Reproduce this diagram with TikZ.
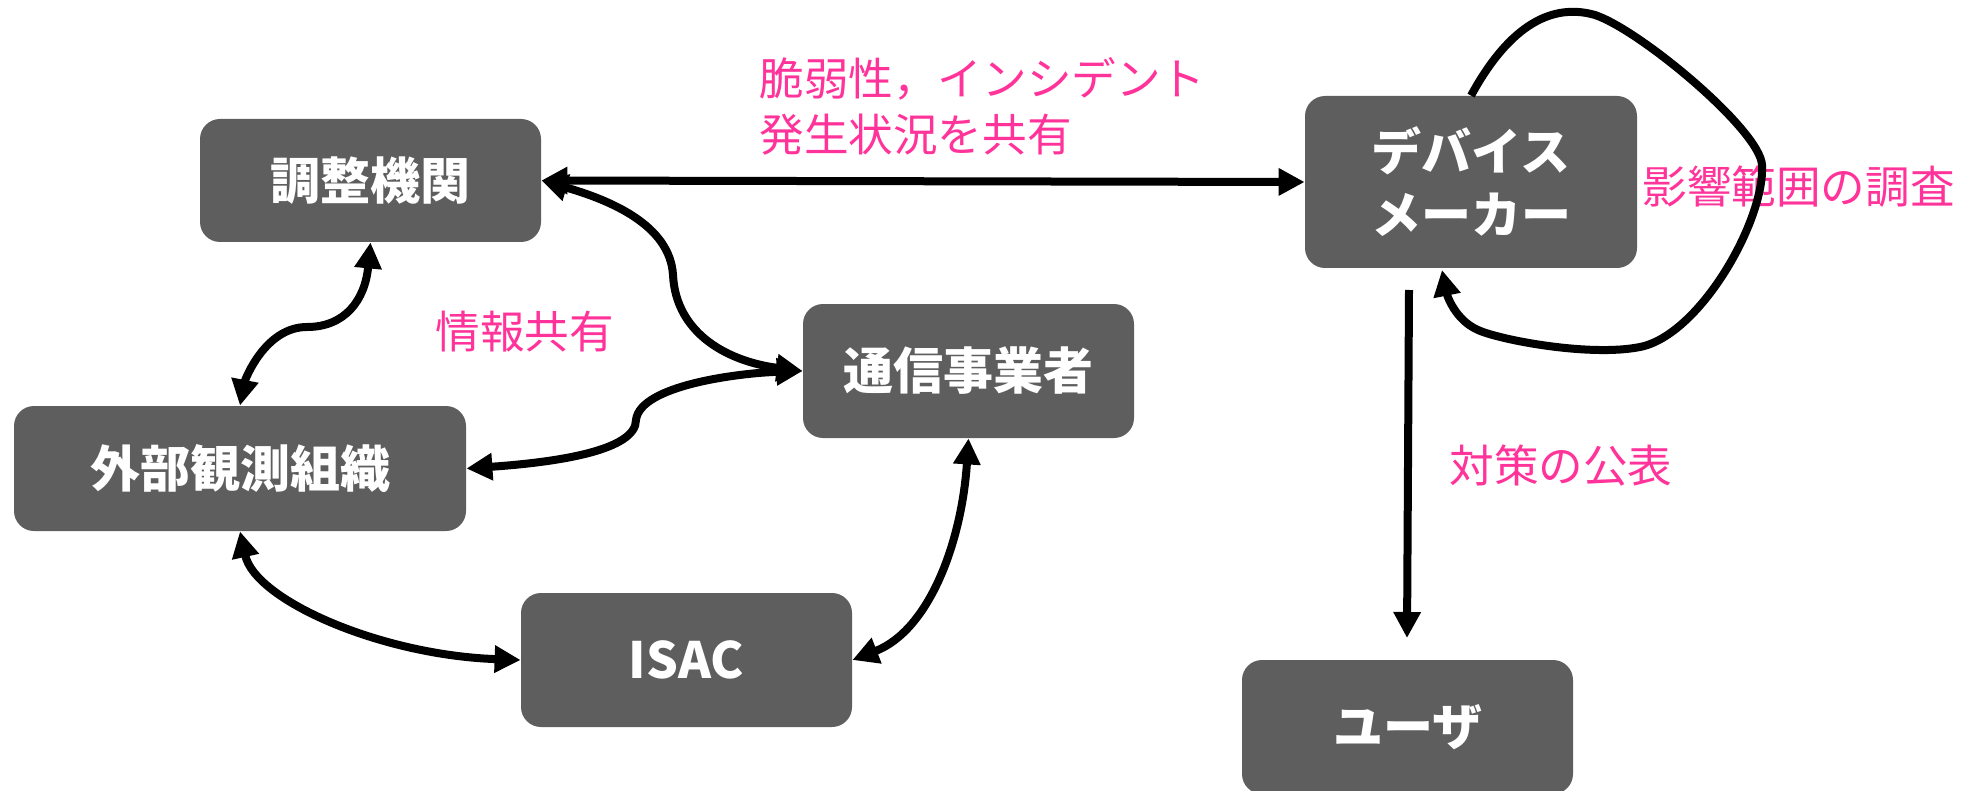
\documentclass[tikz,border=0pt]{standalone}
\usepackage{fontspec}
\setmainfont{Noto Sans CJK JP}
\usetikzlibrary{arrows.meta}
\definecolor{boxgray}{HTML}{5E5E5E}
\definecolor{lblpink}{HTML}{FF3399}
\begin{document}
\begin{tikzpicture}[x=0.5pt,y=-0.5pt,
  box/.style={fill=boxgray, draw=none, rounded corners=10pt, text=white,
    font=\fontsize{25pt}{31.5pt}\selectfont\bfseries, align=center, inner sep=0pt},
  lbl/.style={text=lblpink, font=\fontsize{22.3pt}{28pt}\selectfont, align=left, inner sep=0pt, anchor=west},
  conn/.style={line width=4pt, black},
  both/.style={{Triangle[length=13pt,width=13pt]}-{Triangle[length=13pt,width=13pt]}},
  one/.style={-{Triangle[length=13pt,width=13pt]}}
]
\useasboundingbox (0,0) rectangle (1964,791);
% boxes
\node[box, minimum width=170.5pt, minimum height=61.5pt] (kikan) at (370.5,180.5) {調整機関};
\node[box, minimum width=226pt, minimum height=62.5pt] (gaibu) at (240,468.5) {外部観測組織};
\node[box, minimum width=165.5pt, minimum height=67pt] (tsushin) at (968.5,371) {通信事業者};
\node[box, minimum width=165.5pt, minimum height=67pt] (isac) at (686.5,660) {ISAC};
\node[box, minimum width=166pt, minimum height=86pt] (device) at (1471,182) {デバイス\\メーカー};
\node[box, minimum width=165.5pt, minimum height=67pt] (user) at (1407.5,727) {ユーザ};
% labels
\node[lbl] (l1) at (759,106) {脆弱性，インシデント\\発生状況を共有};
\node[lbl] (l2) at (435,332) {情報共有};
\node[lbl] (l3) at (1642,187) {影響範囲の調査};
\node[lbl] (l4) at (1449,466) {対策の公表};
% coordinates
\coordinate (vstart) at (1409,290);
\coordinate (vend) at (1407,638);
\coordinate (loopend) at (1442,270);
% connectors
\draw[conn,both] (kikan.east) -- (device.west);
\draw[conn,both] (kikan.east) .. controls (610,200) and (670,225) .. (673,275) .. controls (676,335) and (730,362) .. (tsushin.west);
\draw[conn,both] (tsushin.west) .. controls (740,373) and (640,385) .. (636,420) .. controls (636,450) and (560,462) .. (gaibu.east);
\draw[conn,both] (kikan.south) .. controls (365,300) and (345,327) .. (307,327) .. controls (265,327) and (245,380) .. (gaibu.north);
\draw[conn,both] (gaibu.south) .. controls (255,600) and (380,655) .. (isac.west);
\draw[conn,both] (tsushin.south) .. controls (962,540) and (930,630) .. (isac.east);
\draw[conn,one] (vstart) -- (vend);
\draw[conn,one] (device.north) .. controls (1515,15) and (1560,5) .. (1595,15)
  .. controls (1640,30) and (1760,130) .. (1762,165)
  .. controls (1765,220) and (1700,335) .. (1640,347)
  .. controls (1590,357) and (1500,340) .. (1478,330)
  .. controls (1455,320) and (1447,295) .. (loopend);
\end{tikzpicture}
\end{document}
